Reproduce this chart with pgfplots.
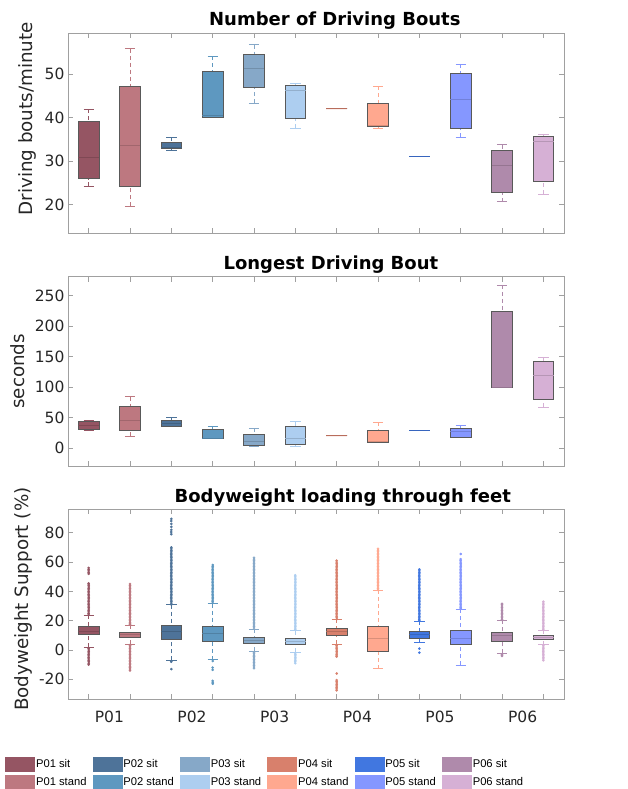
\documentclass[border=0pt]{standalone}
\usepackage{fontspec}
\setmainfont{DejaVu Sans}
\newfontfamily\legfont{Liberation Sans}
\usepackage{pgfplots}
\pgfplotsset{compat=1.18}
\usepgfplotslibrary{statistics}

\definecolor{p1s}{RGB}{149,85,99}
\definecolor{p1t}{RGB}{189,120,128}
\definecolor{p2s}{RGB}{78,115,153}
\definecolor{p2t}{RGB}{94,152,192}
\definecolor{p3s}{RGB}{134,168,200}
\definecolor{p3t}{RGB}{173,206,240}
\definecolor{p4s}{RGB}{216,128,108}
\definecolor{p4t}{RGB}{255,168,143}
\definecolor{p5s}{RGB}{65,119,224}
\definecolor{p5t}{RGB}{133,151,255}
\definecolor{p6s}{RGB}{175,138,171}
\definecolor{p6t}{RGB}{214,176,213}
\definecolor{axgray}{RGB}{160,160,160}
\definecolor{txtgray}{RGB}{38,38,38}

\pgfplotsset{
  boxplot/draw/lower whisker/.code={%
    \draw[/pgfplots/boxplot/every whisker/.try, dash pattern=on 4pt off 3pt]
      (boxplot cs:\pgfplotsboxplotvalue{lower whisker}) -- (boxplot cs:\pgfplotsboxplotvalue{lower quartile});
    \draw[/pgfplots/boxplot/every whisker/.try]
      (boxplot whisker cs:\pgfplotsboxplotvalue{lower whisker},0) -- (boxplot whisker cs:\pgfplotsboxplotvalue{lower whisker},1);
  },
  boxplot/draw/upper whisker/.code={%
    \draw[/pgfplots/boxplot/every whisker/.try, dash pattern=on 4pt off 3pt]
      (boxplot cs:\pgfplotsboxplotvalue{upper whisker}) -- (boxplot cs:\pgfplotsboxplotvalue{upper quartile});
    \draw[/pgfplots/boxplot/every whisker/.try]
      (boxplot whisker cs:\pgfplotsboxplotvalue{upper whisker},0) -- (boxplot whisker cs:\pgfplotsboxplotvalue{upper whisker},1);
  },
  boxstyle/.style={
    boxplot/every box/.style={draw=black!65, fill=#1, line width=0.8pt},
    boxplot/every median/.style={draw=#1!85!black, line width=0.7pt},
    boxplot/every whisker/.style={draw=#1, line width=0.7pt, solid},
  },
  panel/.style={
    scale only axis, width=496pt, anchor=south west,
    xmin=0.5, xmax=12.5, xtick={1,2,...,12}, xticklabels={},
    axis line style={axgray, line width=0.8pt},
    major tick style={axgray, line width=0.7pt}, major tick length=5pt,
    tick label style={font=\fontsize{15.5}{18}\selectfont, text=txtgray},
    /pgf/number format/assume math mode=true,
    title style={font=\bfseries\fontsize{18}{21}\selectfont, anchor=base, yshift=1pt},
    ylabel style={font=\fontsize{18.3}{21}\selectfont, text=txtgray, anchor=base},
    boxplot/draw direction=y,
    boxplot/box extend=0.5, boxplot/whisker extend=0.25,
  },
}
\newcommand\bp[8]{\addplot[forget plot, color=#2, mark=*, mark size=1.1pt, mark options={draw=none, fill=#2},
  boxplot prepared={draw position=#1, lower whisker=#3, lower quartile=#4, median=#5, upper quartile=#6, upper whisker=#7},
  boxstyle=#2] #8;}
\newcommand\swatch[1]{\addlegendimage{legend image code/.code={\fill[#1] (0pt,-7pt) rectangle (29pt,7pt);}}}

\begin{document}
\begin{tikzpicture}
\useasboundingbox (0,0) rectangle (627pt,789pt);

% Panel 1
\begin{axis}[panel, at={(68pt,556pt)}, height=200pt,
  ymin=13.5, ymax=59.5, ytick={20,30,40,50},
  title={Number of Driving Bouts},
  title style={at={(axis description cs:0.538,1)}},
  ylabel={Driving bouts/minute},
  ylabel style={at={(axis description cs:-0.0718,0.571)}},
]
\bp{1}{p1s}{24.2}{26.0}{31.0}{39.2}{42.0}{coordinates {}}
\bp{2}{p1t}{19.7}{24.3}{33.6}{47.2}{55.9}{coordinates {}}
\bp{3}{p2s}{32.6}{32.9}{33.1}{34.4}{35.5}{coordinates {}}
\bp{4}{p2t}{40.1}{40.1}{40.6}{50.7}{54.1}{coordinates {}}
\bp{5}{p3s}{43.4}{46.9}{51.3}{54.5}{56.8}{coordinates {}}
\bp{6}{p3t}{37.6}{39.8}{46.2}{47.4}{47.9}{coordinates {}}
\bp{7}{p4s}{42.1}{42.1}{42.1}{42.1}{42.1}{coordinates {}}
\bp{8}{p4t}{37.6}{38.0}{38.3}{43.2}{47.2}{coordinates {}}
\bp{9}{p5s}{31.1}{31.1}{31.1}{31.1}{31.1}{coordinates {}}
\bp{10}{p5t}{35.5}{37.6}{44.3}{50.3}{52.4}{coordinates {}}
\bp{11}{p6s}{20.7}{22.8}{29.1}{32.5}{33.8}{coordinates {}}
\bp{12}{p6t}{22.5}{25.3}{34.5}{35.8}{36.3}{coordinates {}}
\end{axis}

% Panel 2
\begin{axis}[panel, at={(68pt,323pt)}, height=189.3pt,
  ymin=-29, ymax=281, ytick={0,50,100,150,200,250},
  title={Longest Driving Bout},
  title style={at={(axis description cs:0.530,1)}},
  ylabel={seconds},
  ylabel style={at={(axis description cs:-0.0867,0.5)}},
]
\bp{1}{p1s}{29.5}{31.7}{38.2}{43.7}{45.3}{coordinates {}}
\bp{2}{p1t}{20.2}{28.9}{45.9}{68.8}{84.6}{coordinates {}}
\bp{3}{p2s}{35.5}{36.6}{40.9}{46.4}{50.2}{coordinates {}}
\bp{4}{p2t}{15.8}{15.8}{16.4}{31.7}{36.0}{coordinates {}}
\bp{5}{p3s}{3.8}{5.5}{10.9}{23.5}{32.8}{coordinates {}}
\bp{6}{p3t}{3.3}{6.6}{16.4}{36.6}{43.7}{coordinates {}}
\bp{7}{p4s}{20.7}{20.7}{20.7}{20.7}{20.7}{coordinates {}}
\bp{8}{p4t}{9.8}{10.4}{11.5}{30.0}{42.6}{coordinates {}}
\bp{9}{p5s}{30.0}{30.0}{30.0}{30.0}{30.0}{coordinates {}}
\bp{10}{p5t}{18.6}{18.6}{27.3}{33.3}{37.1}{coordinates {}}
\bp{11}{p6s}{99.3}{99.3}{100}{224.9}{267.5}{coordinates {}}
\bp{12}{p6t}{67.7}{80.2}{120.1}{141.9}{149.6}{coordinates {}}
\end{axis}

% Panel 3
\begin{axis}[panel, at={(68pt,90pt)}, height=189.7pt,
  ymin=-33.4, ymax=96, ytick={-20,0,20,40,60,80},
  title={Bodyweight loading through feet},
  title style={at={(axis description cs:0.554,1)}},
  ylabel={Bodyweight Support (\%)},
  ylabel style={at={(axis description cs:-0.0806,0.526)}},
  extra x ticks={1.5,3.5,5.5,7.5,9.5,11.5},
  extra x tick labels={P01,P02,P03,P04,P05,P06},
  extra x tick style={major tick length=0pt, xticklabel style={yshift=-8.5pt}},
  legend columns=6,
  legend style={at={(axis description cs:-0.127,-0.304)}, anchor=north west,
    draw=none, fill=none, inner sep=0pt, row sep=4pt,
    font=\legfont\fontsize{11.2}{13}\selectfont,
    nodes={inner sep=1.5pt},
    /tikz/every even column/.append style={column sep=4.5pt}},
  legend cell align=left,
]
\bp{1}{p1s}{1.8}{10.5}{13.0}{15.9}{23.9}{table[header=false,y index=0,row sep=\\]{24.5\\25\\26\\27\\28\\29\\30\\31\\32\\33\\34\\35\\36\\37\\38\\39\\40\\41\\42\\43\\44\\45\\45.5\\52\\53\\54\\55\\56\\1.5\\1\\0\\-1\\-2\\-3\\-4\\-5\\-6\\-7\\-8\\-9\\-10\\}}
\bp{2}{p1t}{4.1}{8.6}{10.7}{12.0}{17.0}{table[header=false,y index=0,row sep=\\]{17.5\\18\\19\\20\\21\\22\\23\\24\\25\\26\\27\\28\\29\\30\\31\\32\\33\\34\\35\\36\\37\\38\\39\\40\\41\\42\\43\\44\\45\\3.5\\3\\2\\1\\0\\-1\\-2\\-3\\-4\\-5\\-6\\-7\\-8\\-9\\-10\\-11\\-12\\-13\\-14\\}}
\bp{3}{p2s}{-7.0}{7.3}{12.5}{16.8}{30.9}{table[header=false,y index=0,row sep=\\]{31\\32\\33\\34\\35\\36\\37\\38\\39\\40\\41\\42\\43\\44\\45\\46\\47\\48\\49\\50\\51\\52\\53\\54\\55\\56\\57\\58\\59\\60\\61\\62\\63\\64\\65\\66\\67\\68\\69\\70\\79\\80.5\\82\\84\\86\\88\\89.5\\-7.5\\-8\\-13\\}}
\bp{4}{p2t}{-6.6}{5.9}{11.4}{16.4}{31.6}{table[header=false,y index=0,row sep=\\]{32\\33\\34\\35\\36\\37\\38\\39\\40\\41\\42\\43\\44\\45\\46\\47\\48\\49\\50\\51\\52\\53\\54\\55\\56\\57\\58\\-7.5\\-12\\-13.5\\-21\\-22\\-23\\}}
\bp{5}{p3s}{-0.9}{4.5}{6.8}{8.6}{14.3}{table[header=false,y index=0,row sep=\\]{15\\16\\17\\18\\19\\20\\21\\22\\23\\24\\25\\26\\27\\28\\29\\30\\31\\32\\33\\34\\35\\36\\37\\38\\39\\40\\41\\42\\43\\44\\45\\46\\47\\48\\49\\50\\51\\52\\53\\54\\55\\56\\57\\58\\59\\60\\61\\62\\63\\-1.5\\-2.5\\-3.5\\-4.5\\-5.5\\-6.5\\-7.5\\-8.5\\-9.5\\-10.5\\-11.5\\-12.5\\}}
\bp{6}{p3t}{-1.6}{3.9}{5.7}{7.7}{13.2}{table[header=false,y index=0,row sep=\\]{14\\15\\16\\17\\18\\19\\20\\21\\22\\23\\24\\25\\26\\27\\28\\29\\30\\31\\32\\33\\34\\35\\36\\37\\38\\39\\40\\41\\42\\43\\44\\45\\46\\47\\48\\49\\50\\51\\-2\\-3\\-4\\-5\\-6\\-7\\-8\\-9\\}}
\bp{7}{p4s}{4.1}{10.0}{12.5}{14.5}{20.9}{table[header=false,y index=0,row sep=\\]{21\\22\\23\\24\\25\\26\\27\\28\\29\\30\\31\\32\\33\\34\\35\\36\\37\\38\\39\\40\\41\\42\\43\\44\\45\\46\\47\\48\\49\\50\\51\\52\\53\\54\\55\\56\\57\\58\\59\\60\\61\\3.5\\3\\2\\1\\0\\-1\\-2\\-3\\-4\\-4.5\\-16\\-20.5\\-21.5\\-22.5\\-23.5\\-24.5\\-25.5\\-26.5\\-27.5\\}}
\bp{8}{p4t}{-12.7}{-1.1}{8.0}{15.9}{40.7}{table[header=false,y index=0,row sep=\\]{41\\42\\43\\44\\45\\46\\47\\48\\49\\50\\51\\52\\53\\54\\55\\56\\57\\58\\59\\60\\61\\62\\63\\64\\65\\66\\67\\68\\69\\}}
\bp{9}{p5s}{5.2}{8.0}{10.9}{12.7}{19.5}{table[header=false,y index=0,row sep=\\]{20\\21\\22\\23\\24\\25\\26\\27\\28\\29\\30\\31\\32\\33\\34\\35\\36\\37\\38\\39\\40\\41\\42\\43\\44\\45\\46\\47\\48\\49\\50\\51\\52\\53\\54\\55\\1\\-1.8\\}}
\bp{10}{p5t}{-10.2}{3.6}{8.0}{13.4}{28.0}{table[header=false,y index=0,row sep=\\]{28.5\\29\\30\\31\\32\\33\\34\\35\\36\\37\\38\\39\\40\\41\\42\\43\\44\\45\\46\\47\\48\\49\\50\\51\\52\\53\\54\\55\\56\\57\\58\\59\\60\\61\\62\\65.5\\}}
\bp{11}{p6s}{-2.3}{5.9}{10.2}{12.0}{20.2}{table[header=false,y index=0,row sep=\\]{20.5\\21\\22\\23\\24\\25\\26\\27\\28\\29\\30\\31\\31.5\\-3\\-3.5\\-4\\}}
\bp{12}{p6t}{3.6}{7.0}{8.6}{9.8}{13.6}{table[header=false,y index=0,row sep=\\]{14\\15\\16\\17\\18\\19\\20\\21\\22\\23\\24\\25\\26\\27\\28\\29\\30\\31\\32\\33\\3\\2\\1\\0\\-1\\-2\\-3\\-4\\-5\\-6\\-7\\}}
\swatch{p1s}\addlegendentry{P01 sit}
\swatch{p2s}\addlegendentry{P02 sit}
\swatch{p3s}\addlegendentry{P03 sit}
\swatch{p4s}\addlegendentry{P04 sit}
\swatch{p5s}\addlegendentry{P05 sit}
\swatch{p6s}\addlegendentry{P06 sit}
\swatch{p1t}\addlegendentry{P01 stand}
\swatch{p2t}\addlegendentry{P02 stand}
\swatch{p3t}\addlegendentry{P03 stand}
\swatch{p4t}\addlegendentry{P04 stand}
\swatch{p5t}\addlegendentry{P05 stand}
\swatch{p6t}\addlegendentry{P06 stand}
\end{axis}
\end{tikzpicture}
\end{document}
